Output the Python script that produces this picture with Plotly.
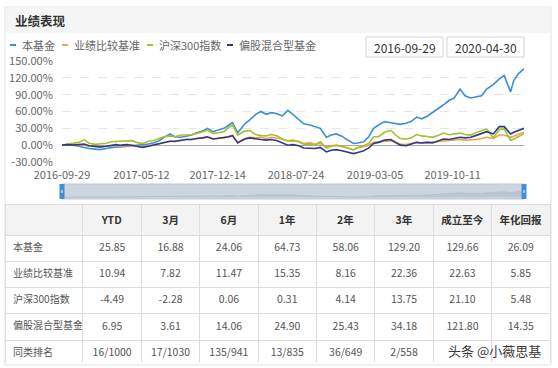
import plotly.graph_objects as go

W, H = 558, 368

dates = [
    "2016-09-29", "2016-10-15", "2016-11-01", "2016-11-15", "2016-12-01", "2016-12-15",
    "2017-01-01", "2017-01-15", "2017-02-01", "2017-02-15", "2017-03-01", "2017-03-15",
    "2017-04-01", "2017-04-15", "2017-05-01", "2017-05-15", "2017-06-01", "2017-06-15",
    "2017-07-01", "2017-07-15", "2017-08-01", "2017-08-15", "2017-09-01", "2017-09-15",
    "2017-10-01", "2017-10-15", "2017-11-01", "2017-11-15", "2017-12-01", "2017-12-15",
    "2018-01-01", "2018-01-15", "2018-01-25", "2018-02-09", "2018-02-20", "2018-03-01",
    "2018-03-15", "2018-04-01", "2018-04-15", "2018-05-01", "2018-05-15", "2018-06-01",
    "2018-06-15", "2018-07-01", "2018-07-15", "2018-08-01", "2018-08-15", "2018-09-01",
    "2018-09-15", "2018-10-01", "2018-10-18", "2018-11-01", "2018-11-15", "2018-12-01",
    "2018-12-15", "2019-01-03", "2019-01-15", "2019-02-01", "2019-02-15", "2019-03-01",
    "2019-03-15", "2019-04-01", "2019-04-19", "2019-05-01", "2019-05-15", "2019-06-01",
    "2019-06-15", "2019-07-01", "2019-07-15", "2019-08-01", "2019-08-15", "2019-09-01",
    "2019-09-15", "2019-10-01", "2019-10-15", "2019-11-01", "2019-11-15", "2019-12-01",
    "2019-12-15", "2020-01-01", "2020-01-15", "2020-02-03", "2020-02-20", "2020-03-05",
    "2020-03-23", "2020-04-01", "2020-04-15", "2020-04-30",
]

fund = [0, 1, 0, -2, -3, -6, -7, -8, -6, -4, -3, -3, -2, -1, -1, 0, 2, 4,
        8, 14, 20, 15, 14, 16, 18, 22, 25, 30, 24, 27, 30, 36, 40, 22, 30, 38,
        45, 55, 60, 55, 58, 56, 52, 62, 55, 45, 38, 36, 33, 30, 14, 18, 20, 16,
        10, 3, 4, 6, 15, 30, 36, 42, 40, 38, 37, 39, 42, 50, 47, 52, 58, 66,
        72, 80, 84, 100, 88, 84, 86, 88, 100, 108, 118, 124, 95, 115, 128, 136]

bench = [0, 0, -1, -1, 0, -2, -3, -3, -2, -1, -1, -2, -1, -1, -2, -3, -1, 1,
         3, 5, 7, 6, 8, 10, 10, 11, 12, 14, 11, 12, 13, 16, 18, 5, 9, 12,
         14, 13, 14, 12, 14, 13, 11, 8, 9, 6, 3, 4, 2, 3, -3, -1, 0, -2,
         -4, -8, -5, -3, 0, 5, 6, 7, 8, 5, 2, 1, 3, 5, 4, 5, 5, 7,
         8, 8, 9, 10, 9, 9, 10, 12, 14, 12, 18, 18, 14, 16, 19, 23]

hs300 = [0, 2, 3, 5, 9.5, 3.5, 1.5, 2, 3.5, 6, 6.5, 6.5, 7.5, 8, 4.5, 3, 7, 8,
         12, 15, 16.5, 15, 18, 18.5, 18.5, 21, 23.5, 27, 21, 22, 24, 32, 36, 18, 22, 25,
         26, 19, 17, 16.5, 19, 16.5, 11, 7, 8, 6.5, 1.5, 2, 0, 6, -5, -2, -0.5, -2,
         -4.5, -8.5, -4, -1, 3, 15, 15, 23, 26.5, 19, 12, 11, 13, 19, 16.5, 15.5, 14, 17.5,
         21.5, 18.5, 20, 21.5, 19, 18, 22, 26.5, 29, 13, 28, 29, 8.5, 11, 15, 20]

mixed = [0, 1, 0, 1, 2, -1, -2, -3, -2, 0, 1, 0, 1, 0, -2, -4, -2, 0,
         3, 5, 7, 7, 9, 10, 10, 12, 13, 15, 11, 12, 13, 15, 17, 4, 8, 11,
         13, 11, 10, 9, 10, 8, 4, 0, 1, -1, -5, -5, -6, -4, -12, -9, -8, -10,
         -12, -15, -13, -10, -5, 3, 5, 9, 10, 5, 0, -1, 2, 5, 4, 5, 4, 8,
         11, 10, 12, 14, 13, 14, 17, 21, 24, 20, 33, 33, 20, 23, 27, 30]

series_names = ["本基金", "业绩比较基准", "沪深300指数", "偏股混合型基金"]
series_colors = ["#3d8fd9", "#f0a04b", "#a5c02c", "#2f3a86"]

tick_dates = ["2016-09-29", "2017-05-12", "2017-12-14", "2018-07-24", "2019-03-05", "2019-10-11"]
y_ticks = [-30, 0, 30, 60, 90, 120, 150]
y_tick_text = ["-30.00%", "0.00%", "30.00%", "60.00%", "90.00%", "120.00%", "150.00%"]

start_date = "2016-09-29"
end_date = "2020-04-30"

table_header = ["", "YTD", "3月", "6月", "1年", "2年", "3年", "成立至今", "年化回报"]
row_names = ["本基金", "业绩比较基准", "沪深300指数", "偏股混合型基金", "同类排名"]
col_ytd = ["25.85", "10.94", "-4.49", "6.95", "16/1000"]
col_3m = ["16.88", "7.82", "-2.28", "3.61", "17/1030"]
col_6m = ["24.06", "11.47", "0.06", "14.06", "135/941"]
col_1y = ["64.73", "15.35", "0.31", "24.90", "13/835"]
col_2y = ["58.06", "8.16", "4.14", "25.43", "36/649"]
col_3y = ["129.20", "22.36", "13.75", "34.18", "2/558"]
col_since = ["129.66", "22.63", "21.10", "121.80", ""]
col_annual = ["26.09", "5.85", "5.48", "14.35", ""]

FONT = "Noto Sans CJK SC, Noto Sans, sans-serif"


def px(x):
    return x / W


def py(y):
    return 1 - y / H


fig = go.Figure()

for name, vals, col in zip(series_names, [fund, bench, hs300, mixed], series_colors):
    fig.add_trace(go.Scatter(x=dates, y=vals, mode="lines", name=name,
                             line=dict(color=col, width=1.6), xaxis="x", yaxis="y",
                             showlegend=False))

fig.add_trace(go.Scatter(x=dates, y=fund, mode="lines", fill="tozeroy",
                         line=dict(color="#b3bfcc", width=0.8), fillcolor="#bcc6d2",
                         xaxis="x2", yaxis="y2", showlegend=False, hoverinfo="skip"))

fig.add_trace(go.Table(
    domain=dict(x=[px(5), px(550)], y=[py(362), py(204)]),
    columnwidth=[78] + [58.4] * 8,
    header=dict(values=["<b>" + h + "</b>" if h else "" for h in table_header],
                fill_color="#f3f3f3", line=dict(color="#dddddd", width=1),
                align="center", font=dict(family=FONT, size=10.5, color="#333"), height=26),
    cells=dict(values=[row_names, col_ytd, col_3m, col_6m, col_1y, col_2y, col_3y,
                       col_since, col_annual],
               fill_color="white", line=dict(color="#dddddd", width=1),
               align=["left"] + ["center"] * 8,
               font=dict(family=FONT, size=[10] + [10.5] * 8, color="#555"), height=26.3),
))

shapes = []
shapes.append(dict(type="rect", xref="paper", yref="paper", x0=px(5), x1=px(551), y0=py(365), y1=py(7),
                   line=dict(color="#e3e3e3", width=1), fillcolor="white", layer="below"))
shapes.append(dict(type="rect", xref="paper", yref="paper", x0=px(5.5), x1=px(550.5), y0=py(33), y1=py(7.5),
                   line=dict(width=0), fillcolor="#f5f5f5", layer="below"))
legend_x = [10, 62, 147, 227]
legend_text_x = [20, 72, 157, 237]
for lx, col in zip(legend_x, series_colors):
    shapes.append(dict(type="line", xref="paper", yref="paper", x0=px(lx), x1=px(lx + 6),
                       y0=py(45), y1=py(45), line=dict(color=col, width=2)))
for x0, x1 in [(366, 443), (447, 524)]:
    shapes.append(dict(type="rect", xref="paper", yref="paper", x0=px(x0), x1=px(x1), y0=py(57), y1=py(37),
                       line=dict(color="#d6d6d6", width=1), fillcolor="white"))
shapes.append(dict(type="rect", xref="x2 domain", yref="y2 domain", x0=0, x1=1, y0=0, y1=1,
                   line=dict(color="#bfc9d5", width=1), fillcolor="#cdd5df", layer="below"))
for hx in [0, 1]:
    shapes.append(dict(type="rect", xref="x2 domain", yref="paper", x0=hx, x1=hx,
                       y0=py(199), y1=py(184), line=dict(color="#3d8fd9", width=5)))
    shapes.append(dict(type="line", xref="x2 domain", yref="paper", x0=hx, x1=hx,
                       y0=py(193), y1=py(190), line=dict(color="#ffffff", width=1)))

annotations = []
annotations.append(dict(text="<b>业绩表现</b>", x=px(13), y=py(21), xref="paper", yref="paper",
                        xanchor="left", yanchor="middle", showarrow=False,
                        font=dict(family=FONT, size=12.5, color="#333")))
for tx, name in zip(legend_text_x, series_names):
    annotations.append(dict(text=name, x=px(tx), y=py(45), xref="paper", yref="paper",
                            xanchor="left", yanchor="middle", showarrow=False,
                            font=dict(family=FONT, size=11, color="#666")))
for cx, txt in [(404.5, start_date), (485.5, end_date)]:
    annotations.append(dict(text=txt, x=px(cx), y=py(47), xref="paper", yref="paper",
                            xanchor="center", yanchor="middle", showarrow=False,
                            font=dict(family=FONT, size=12, color="#333")))
annotations.append(dict(text="头条 @小薇思基", x=px(494), y=py(350), xref="paper", yref="paper",
                        xanchor="center", yanchor="middle", showarrow=False,
                        font=dict(family=FONT, size=13, color="#3a3a3a")))

fig.update_layout(
    width=W, height=H, margin=dict(l=0, r=0, t=0, b=0, autoexpand=False),
    paper_bgcolor="white", plot_bgcolor="rgba(0,0,0,0)",
    font=dict(family=FONT, size=11, color="#666"),
    shapes=shapes, annotations=annotations, showlegend=False,
    xaxis=dict(domain=[px(62), px(524)], type="date", range=[start_date, end_date],
               tickvals=tick_dates, ticktext=tick_dates, showgrid=False, zeroline=False,
               showline=False, ticks="outside", ticklen=3, tickcolor="rgba(0,0,0,0)",
               tickfont=dict(size=11, color="#666"), anchor="y", automargin=False),
    yaxis=dict(domain=[py(162), py(61)], range=[-30, 150], tickvals=y_ticks, ticktext=y_tick_text,
               showgrid=True, gridcolor="#e6e6e6", griddash="dash", gridwidth=1,
               zeroline=True, zerolinecolor="#a8a8a8", zerolinewidth=1,
               showline=False, ticks="outside", ticklen=6, tickcolor="rgba(0,0,0,0)",
               tickfont=dict(size=11, color="#666"), anchor="x", automargin=False),
    xaxis2=dict(domain=[px(62), px(524)], type="date", range=[start_date, end_date],
                showgrid=False, zeroline=False, showticklabels=False, showline=False,
                anchor="y2", fixedrange=True, automargin=False),
    yaxis2=dict(domain=[py(199), py(184)], range=[-40, 300], showgrid=False, zeroline=False,
                showticklabels=False, showline=False, anchor="x2", fixedrange=True, automargin=False),
)

fig.write_html("out.html", config={"displayModeBar": False},
               post_script="document.body.style.margin='0px';"
                           "document.documentElement.style.overflow='hidden';")
